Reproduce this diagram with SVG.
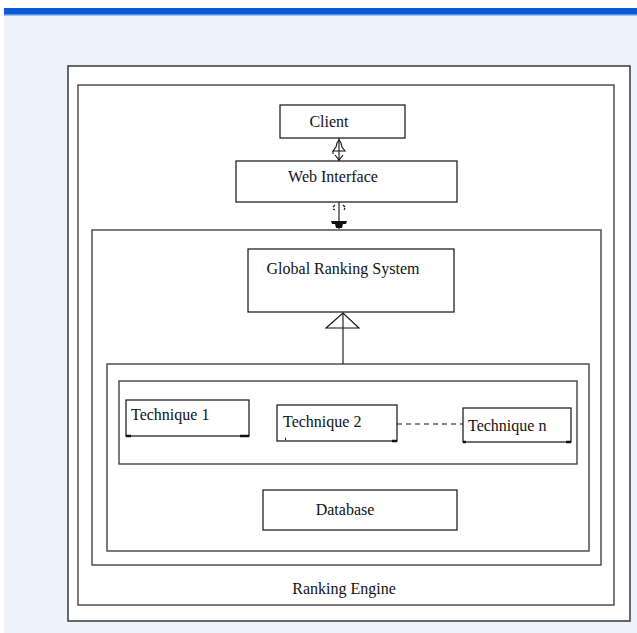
<svg xmlns="http://www.w3.org/2000/svg" width="637" height="633" viewBox="0 0 637 633">
<style>
.frame{fill:none;stroke:#444;stroke-width:1.4}
.box{fill:#fff;stroke:#111;stroke-width:1.2}
.lbl{font-family:'Liberation Serif','DejaVu Serif','Times New Roman',serif;font-size:16px;fill:#111}
.ln{stroke:#111;stroke-width:1.1;fill:none}
.tick{stroke:#111;stroke-width:2.5}
</style>
<rect x="0" y="0" width="637" height="633" fill="#fff"/>
<rect x="4" y="14" width="633" height="619" fill="#EEF2FB"/>
<rect x="4" y="8" width="633" height="6" fill="#0A5AD8"/>
<rect x="4" y="14" width="633" height="1.5" fill="#5A8FE6"/>

<g id="outer-frame"><rect x="68" y="66" width="562" height="555" fill="#fff" stroke="#444" stroke-width="1.6"/></g>
<g id="ranking-engine">
<rect class="frame" x="78" y="85" width="536" height="520"/>
<text class="lbl" x="344" y="594" text-anchor="middle">Ranking Engine</text>
</g>
<g id="client">
<rect class="box" x="280" y="105" width="125" height="33"/>
<text class="lbl" x="329" y="127" text-anchor="middle">Client</text>
</g>
<g id="web-interface">
<rect class="box" x="236" y="161" width="221" height="41"/>
<text class="lbl" x="333" y="182" text-anchor="middle">Web Interface</text>
</g>
<g id="core-frame"><rect class="frame" x="92" y="230" width="509" height="335"/></g>
<g id="global-ranking-system">
<rect class="box" x="248" y="249" width="206" height="63"/>
<text class="lbl" x="343" y="274" text-anchor="middle">Global Ranking System</text>
</g>
<g id="module-frame"><rect class="frame" x="107" y="364" width="482" height="187"/></g>
<g id="technique-frame"><rect class="frame" x="119" y="381" width="458" height="83"/></g>
<g id="technique-1">
<rect class="box" x="126" y="400" width="123" height="36"/>
<line class="tick" x1="126" y1="436" x2="131" y2="436"/>
<line class="tick" x1="240" y1="436" x2="249" y2="436"/>
<text class="lbl" x="131" y="420">Technique 1</text>
</g>
<g id="technique-2">
<rect class="box" x="277" y="405" width="120" height="36"/>
<line class="tick" x1="392" y1="441" x2="397" y2="441"/>
<line class="tick" x1="285" y1="439" x2="286" y2="439"/>
<text class="lbl" x="283" y="427">Technique 2</text>
</g>
<g id="technique-n">
<rect class="box" x="463" y="408" width="108" height="34"/>
<line class="tick" x1="463" y1="442" x2="466" y2="442"/>
<line class="tick" x1="566" y1="442" x2="571" y2="442"/>
<text class="lbl" x="468" y="431">Technique n</text>
</g>
<g id="database">
<rect class="box" x="263" y="490" width="194" height="40"/>
<text class="lbl" x="345" y="515" text-anchor="middle">Database</text>
</g>
<g id="connectors">
<line class="ln" x1="339" y1="138" x2="339" y2="161"/>
<path class="ln" d="M339,140 L337,143 L336,147 L333,151 L345,151 L342,147 L341,143 Z"/>
<line class="ln" x1="333" y1="151" x2="333" y2="154"/>
<path class="ln" d="M335,155 L339,160 L343,155"/>
<line class="ln" x1="339" y1="202" x2="339" y2="229"/>
<path class="ln" d="M333,207 l2,-2 M335,210 l-2,-1 M343,205 l2,2 M344,210 l1,-2"/>
<path d="M331,221 L347,221 L346,224 L343,224 L342,228 L336,228 L335,224 L332,224 Z" fill="#111"/>
<line class="ln" x1="343" y1="313" x2="343" y2="364"/>
<path class="ln" d="M343,313 L326,328 L359,328 Z" fill="none"/>
<line class="ln" x1="397" y1="424" x2="463" y2="424" stroke-dasharray="5,4"/>
</g>
</svg>
